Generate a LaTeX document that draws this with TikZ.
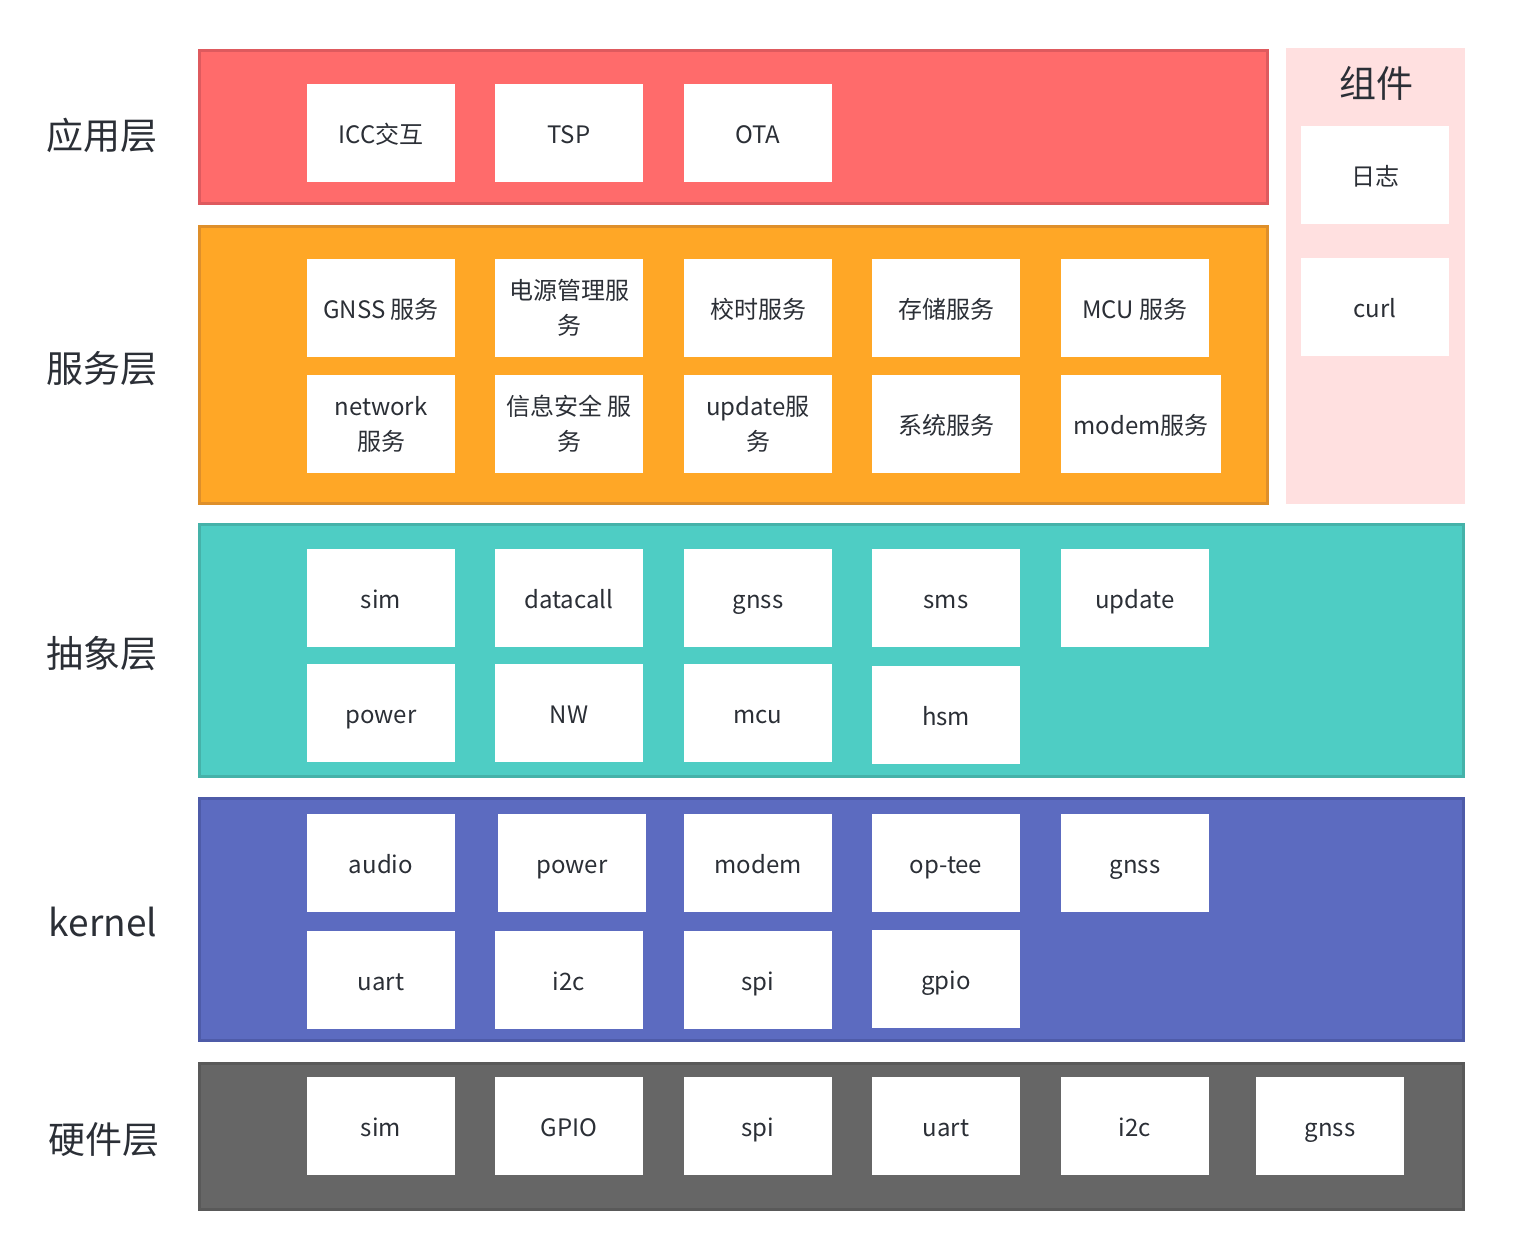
\documentclass[tikz,border=0pt]{standalone}
\usepackage{fontspec}
\setmainfont{Noto Sans CJK SC}
\usepackage{tikz}
\definecolor{appred}{HTML}{FF6B6B}
\definecolor{appredd}{HTML}{DE5A5E}
\definecolor{srvorange}{HTML}{FFA726}
\definecolor{srvoranged}{HTML}{DE8F2A}
\definecolor{comppink}{HTML}{FFE0E0}
\definecolor{abstrteal}{HTML}{4ECDC4}
\definecolor{abstrteald}{HTML}{45B2A9}
\definecolor{kernblue}{HTML}{5C6BC0}
\definecolor{kernblued}{HTML}{4E5BA8}
\definecolor{hwgray}{HTML}{666666}
\definecolor{hwgrayd}{HTML}{595959}
\definecolor{txtgray}{HTML}{2B2F36}
\tikzstyle{layer}=[rectangle, line width=1.5pt, inner sep=0pt]
\tikzstyle{modul}=[rectangle, fill=white, minimum width=74pt, minimum height=49pt, inner sep=1pt, text=txtgray, align=center, font=\fontsize{12}{17.5}\selectfont, text height=10pt, text depth=0pt]
\tikzstyle{zweizeilig}=[text height=, text depth=]
\tikzstyle{ebene}=[text=txtgray, font=\fontsize{18.5}{22}\selectfont]

\begin{document}
\begin{tikzpicture}[x=0.5pt, y=-0.5pt]
			\useasboundingbox (0,0) rectangle (1513,1259);
			% layers
			\node[layer, fill=appred, draw=appredd, minimum width=534pt, minimum height=76.5pt] (app) at (733.5,127) {};
			\node[layer, fill=srvorange, draw=srvoranged, minimum width=534pt, minimum height=138.5pt] (srv) at (733.5,365) {};
			\node[layer, fill=comppink, minimum width=89.5pt, minimum height=228pt] (comp) at (1375.5,276) {};
			\node[layer, fill=abstrteal, draw=abstrteald, minimum width=632pt, minimum height=126pt] (abstr) at (831.5,650.5) {};
			\node[layer, fill=kernblue, draw=kernblued, minimum width=632pt, minimum height=121pt] (kern) at (831.5,919.5) {};
			\node[layer, fill=hwgray, draw=hwgrayd, minimum width=632pt, minimum height=73pt] (hw) at (831.5,1136.5) {};
			% layer names
			\node[ebene] (lapp) at (102,135) {应用层};
			\node[ebene] (lsrv) at (102,369) {服务层};
			\node[ebene] (labstr) at (102,654) {抽象层};
			\node[ebene] (lkern) at (103,922) {kernel};
			\node[ebene] (lhw) at (104,1140) {硬件层};
			\node[ebene] (lcomp) at (1376,83) {组件};
			% 应用层
			\node[modul] (a1) at (381,133) {ICC交互};
			\node[modul] (a2) at (569,133) {TSP};
			\node[modul] (a3) at (758,133) {OTA};
			% 服务层
			\node[modul] (s1) at (381,308) {GNSS 服务};
			\node[modul, zweizeilig] (s2) at (569,308) {电源管理服\\务};
			\node[modul] (s3) at (758,308) {校时服务};
			\node[modul] (s4) at (946,308) {存储服务};
			\node[modul] (s5) at (1135,308) {MCU 服务};
			\node[modul, zweizeilig] (s6) at (381,424) {network\\服务};
			\node[modul, zweizeilig] (s7) at (569,424) {信息安全 服\\务};
			\node[modul, zweizeilig] (s8) at (758,424) {update服\\务};
			\node[modul] (s9) at (946,424) {系统服务};
			\node[modul, minimum width=80pt] (s10) at (1141,424) {modem服务};
			% 组件
			\node[modul] (c1) at (1375,175) {日志};
			\node[modul] (c2) at (1375,307) {curl};
			% 抽象层
			\node[modul] (b1) at (381,598) {sim};
			\node[modul] (b2) at (569,598) {datacall};
			\node[modul] (b3) at (758,598) {gnss};
			\node[modul] (b4) at (946,598) {sms};
			\node[modul] (b5) at (1135,598) {update};
			\node[modul] (b6) at (381,713) {power};
			\node[modul] (b7) at (569,713) {NW};
			\node[modul] (b8) at (758,713) {mcu};
			\node[modul] (b9) at (946,715) {hsm};
			% kernel
			\node[modul] (k1) at (381,863) {audio};
			\node[modul] (k2) at (572,863) {power};
			\node[modul] (k3) at (758,863) {modem};
			\node[modul] (k4) at (946,863) {op-tee};
			\node[modul] (k5) at (1135,863) {gnss};
			\node[modul] (k6) at (381,980) {uart};
			\node[modul] (k7) at (569,980) {i2c};
			\node[modul] (k8) at (758,980) {spi};
			\node[modul] (k9) at (946,979) {gpio};
			% 硬件层
			\node[modul] (h1) at (381,1126) {sim};
			\node[modul] (h2) at (569,1126) {GPIO};
			\node[modul] (h3) at (758,1126) {spi};
			\node[modul] (h4) at (946,1126) {uart};
			\node[modul] (h5) at (1135,1126) {i2c};
			\node[modul] (h6) at (1330,1126) {gnss};
		\end{tikzpicture}
\end{document}
